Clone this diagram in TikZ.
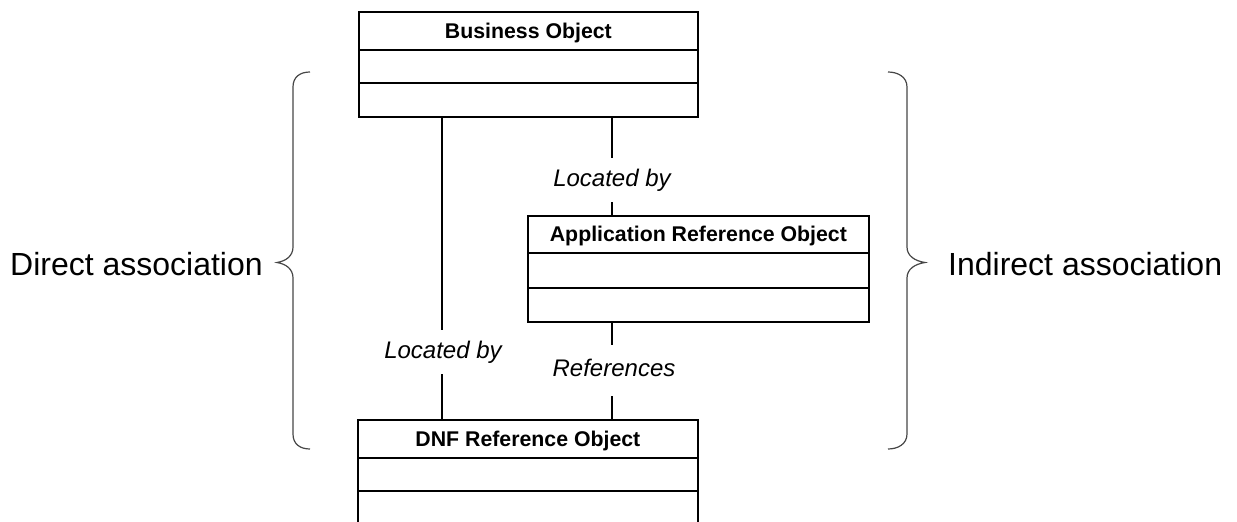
\documentclass[tikz,border=0pt]{standalone}
\usepackage{fontspec}
\setmainfont{Liberation Sans}
\definecolor{bracegray}{RGB}{70,70,70}
\begin{document}
\begin{tikzpicture}[x=1pt,y=-1pt,
  classbox/.style={draw=black, line width=1.8pt, fill=white, inner sep=0pt, anchor=north west},
  rowline/.style={draw=black, line width=1.8pt},
  classtitle/.style={font=\fontsize{21.3}{24}\selectfont\bfseries, anchor=base, inner sep=0pt},
  assoc/.style={draw=black, line width=1.1pt},
  rolelabel/.style={font=\fontsize{24}{28}\selectfont\itshape, fill=white, inner xsep=3pt,
    text height=17.2pt, text depth=5pt},
  bracepath/.style={draw=bracegray, line width=1.2pt},
  sidelabel/.style={font=\fontsize{32}{36}\selectfont, inner sep=0pt}]

\useasboundingbox (0,0) rectangle (1237,522);
\clip (0,0) rectangle (1237,522);

% class boxes
\node[classbox, minimum width=339pt, minimum height=105pt] (bo) at (358,11) {};
\node[classbox, minimum width=341pt, minimum height=106pt] (aro) at (527,215) {};
\node[classbox, minimum width=340pt, minimum height=105pt] (dnf) at (357,419) {};

% compartments
\draw[rowline] ([yshift=-39pt]bo.north west) -- ([yshift=-39pt]bo.north east);
\draw[rowline] ([yshift=-72pt]bo.north west) -- ([yshift=-72pt]bo.north east);
\draw[rowline] ([yshift=-38pt]aro.north west) -- ([yshift=-38pt]aro.north east);
\draw[rowline] ([yshift=-73pt]aro.north west) -- ([yshift=-73pt]aro.north east);
\draw[rowline] ([yshift=-39pt]dnf.north west) -- ([yshift=-39pt]dnf.north east);
\draw[rowline] ([yshift=-72pt]dnf.north west) -- ([yshift=-72pt]dnf.north east);

% class names
\node[classtitle] (botitle) at ([yshift=-27pt]bo.north) {Business Object};
\node[classtitle] (arotitle) at ([yshift=-26.5pt]aro.north) {Application Reference Object};
\node[classtitle] (dnftitle) at ([yshift=-27pt]dnf.north) {DNF Reference Object};

% associations
\coordinate (directx) at (442,0);
\coordinate (indirectx) at (612,0);
\draw[assoc] (directx |- bo.south) -- (directx |- dnf.north);
\draw[assoc] (indirectx |- bo.south) -- (indirectx |- aro.north);
\draw[assoc] (indirectx |- aro.south) -- (indirectx |- dnf.north);

\node[rolelabel, inner ysep=10.5pt] (loc1) at (612,180) {Located by};
\node[rolelabel, inner ysep=10.5pt] (loc2) at (443,352) {Located by};
\node[rolelabel, inner ysep=14pt] (refs) at (614,370.5) {References};

% braces
\draw[bracepath] (310,72) .. controls (300,72) and (293,77) .. (293,87)
  -- (293,247) .. controls (293,256) and (286,261) .. (277,262.5)
  .. controls (286,264) and (293,269) .. (293,278)
  -- (293,434) .. controls (293,444) and (300,449) .. (310,449);
\draw[bracepath] (888,72) .. controls (898,72) and (907,77) .. (907,87)
  -- (907,247) .. controls (907,256) and (915,261) .. (925,262.5)
  .. controls (915,264) and (907,269) .. (907,278)
  -- (907,434) .. controls (907,444) and (898,449) .. (888,449);

\node[sidelabel, anchor=base west] (direct) at (10,275) {Direct association};
\node[sidelabel, anchor=base west] (indirect) at (948,275) {Indirect association};
\end{tikzpicture}
\end{document}
